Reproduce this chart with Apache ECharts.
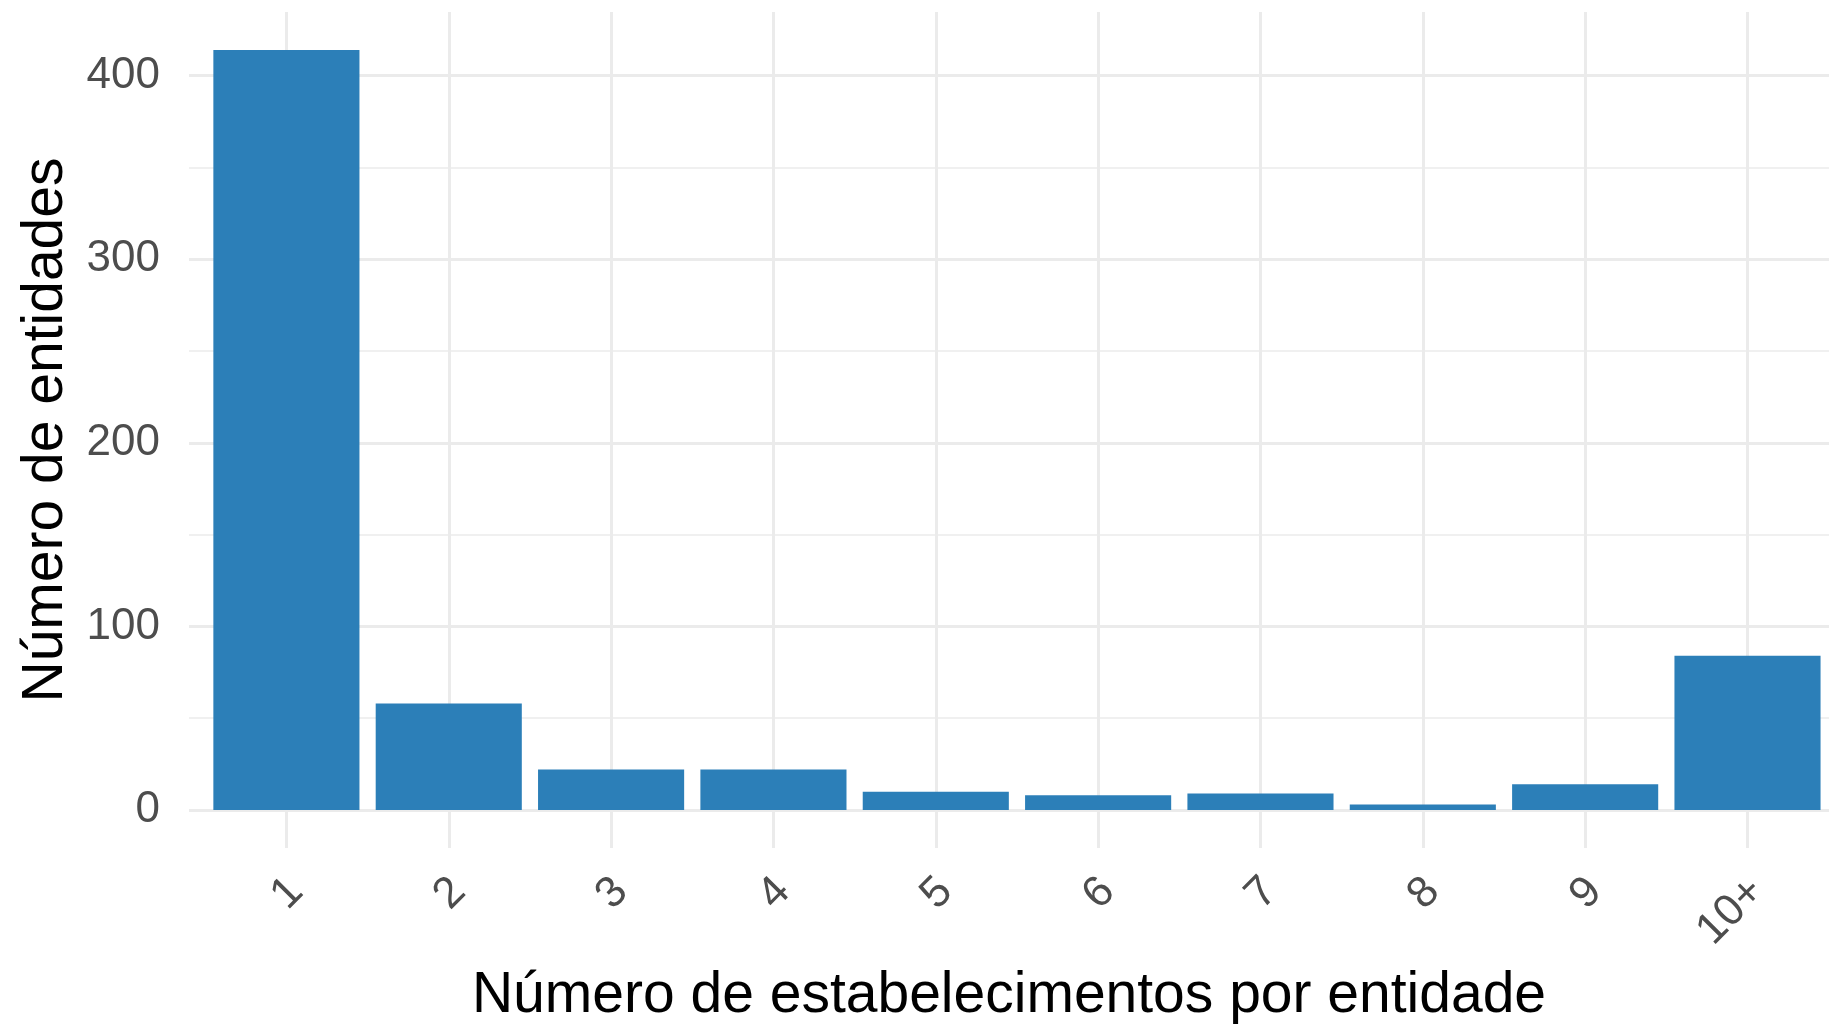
<!DOCTYPE html>
<html>
<head>
<meta charset="utf-8">
<script src="https://cdn.jsdelivr.net/npm/echarts@6/dist/echarts.min.js"></script>
<style>
html,body{margin:0;padding:0;background:#fff;}
#chart{width:1829px;height:1025px;}
</style>
</head>
<body>
<div id="chart"></div>
<script>
const categories = ['1','2','3','4','5','6','7','8','9','10+'];
const values = [414, 58, 22, 22, 10, 8, 9, 3, 14, 84];
const yMajorTicks = [0, 100, 200, 300, 400];
const yMinorTicks = [50, 150, 250, 350];
const xTickPositions = categories.map((c, i) => i + 1);

const FONT = 'Liberation Sans, Arial, Helvetica, sans-serif';
const GRID = '#EBEBEB';

const chart = echarts.init(document.getElementById('chart'), null, {renderer: 'canvas'});
chart.setOption({
  backgroundColor: '#ffffff',
  animation: false,
  grid: {left: 189, right: 0, top: 12, bottom: 177, containLabel: false, outerBoundsMode: 'none'},
  xAxis: {
    type: 'value',
    min: 0.4,
    max: 10.502,
    axisLine: {show: false},
    axisTick: {show: false, customValues: xTickPositions},
    splitLine: {show: true, lineStyle: {color: GRID, width: 3}},
    axisLabel: {
      customValues: xTickPositions,
      formatter: v => categories[Math.round(v) - 1],
      rotate: 45,
      align: 'right',
      verticalAlign: 'top',
      lineHeight: 28,
      margin: 27,
      fontSize: 44,
      color: '#4D4D4D',
      fontFamily: FONT
    },
    name: 'Número de estabelecimentos por entidade',
    nameLocation: 'middle',
    nameGap: 120,
    nameTextStyle: {fontSize: 57, color: '#000', fontFamily: FONT}
  },
  yAxis: [{
    type: 'value',
    min: -20.7,
    max: 434.7,
    axisLine: {show: false},
    axisTick: {show: false, customValues: yMajorTicks},
    splitLine: {show: true, lineStyle: {color: GRID, width: 3}},
    axisLabel: {
      customValues: yMajorTicks,
      margin: 29,
      fontSize: 44,
      color: '#4D4D4D',
      fontFamily: FONT
    },
    name: 'Número de entidades',
    nameLocation: 'middle',
    nameRotate: 90,
    nameGap: 114,
    nameTextStyle: {fontSize: 57, color: '#000', fontFamily: FONT}
  }, {
    type: 'value',
    min: -20.7,
    max: 434.7,
    position: 'left',
    axisLine: {show: false},
    axisTick: {show: false, customValues: yMinorTicks},
    axisLabel: {show: false, customValues: yMinorTicks},
    splitLine: {show: true, lineStyle: {color: GRID, width: 1.5}}
  }],
  series: [{
    type: 'bar',
    yAxisIndex: 0,
    data: values.map((v, i) => [i + 1, v]),
    barWidth: '90%',
    itemStyle: {color: '#2C7FB8'},
    z: 3
  }]
});
</script>
</body>
</html>
